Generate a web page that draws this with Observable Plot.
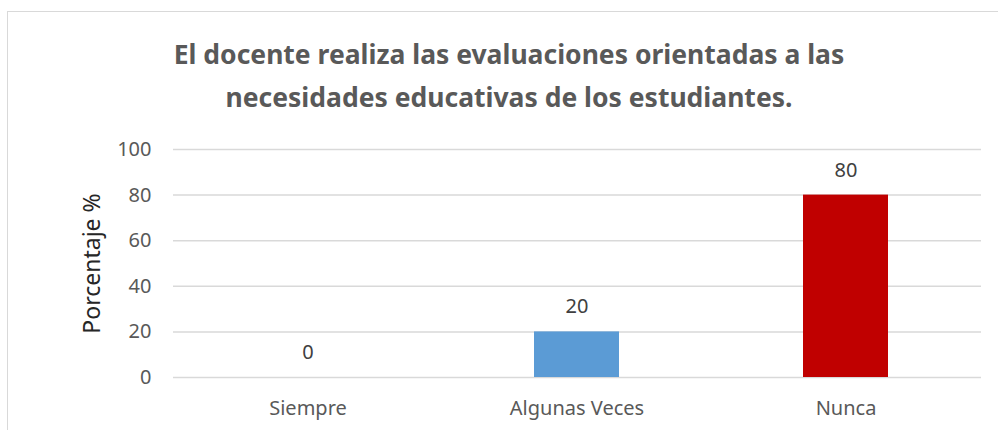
<!DOCTYPE html>
<html>
<head>
<meta charset="utf-8">
<script src="https://cdn.jsdelivr.net/npm/d3@7"></script>
<script src="https://cdn.jsdelivr.net/npm/@observablehq/plot@0.6"></script>
<style>
  html, body { margin: 0; padding: 0; background: #fff; }
  #wrap { position: relative; width: 998px; height: 430px; overflow: hidden; font-family: "Noto Sans", sans-serif; }
  #frame { position: absolute; left: 7px; top: 11px; width: 1200px; height: 600px; border-left: 1.5px solid #d9d9d9; border-top: 1.5px solid #d9d9d9; }
  #title { position: absolute; left: 0; top: 33px; width: 1018px; text-align: center; font-weight: bold; font-size: 26.5px; line-height: 43px; color: #595959; }
  #chart { position: absolute; left: 0; top: 0; }
</style>
</head>
<body>
<div id="wrap">
  <div id="frame"></div>
  <div id="title">El docente realiza las evaluaciones orientadas a las<br>necesidades educativas de los estudiantes.</div>
  <div id="chart"></div>
</div>
<script>
const categories = ["Siempre", "Algunas Veces", "Nunca"];
const values = [0, 20, 80];
const colors = ["#5B9BD5", "#5B9BD5", "#C00000"];
const yTicks = [0, 20, 40, 60, 80, 100];
const yLabel = "Porcentaje %";

const data = categories.map((c, i) => ({cat: c, val: values[i], color: colors[i]}));

const plot = Plot.plot({
  width: 998,
  height: 430,
  marginLeft: 173,
  marginRight: 17,
  marginTop: 149,
  marginBottom: 53,
  style: {fontFamily: "Noto Sans, sans-serif", fontSize: "20px", background: "transparent", overflow: "visible"},
  x: {domain: categories, paddingInner: 0.684, paddingOuter: 0.342, label: null},
  y: {domain: [0, 100], ticks: yTicks, label: null},
  marks: [
    Plot.ruleY(yTicks, {stroke: "#d9d9d9", strokeWidth: 1.5}),
    Plot.barY(data, {x: "cat", y: "val", fill: "color"}),
    Plot.text(data, {x: "cat", y: "val", text: d => String(d.val), dy: -25, fill: "#404040", fontSize: 20}),
    Plot.axisY({ticks: yTicks, tickSize: 0, tickPadding: 22, fill: "#595959", fontSize: 20, label: null}),
    Plot.axisX({tickSize: 0, tickPadding: 23, fill: "#595959", fontSize: 20, label: null}),
    Plot.text([yLabel], {frameAnchor: "left", textAnchor: "middle", dx: -81, rotate: -90, fill: "#262626", fontSize: 23, text: d => d})
  ]
});
document.getElementById("chart").appendChild(plot);
</script>
</body>
</html>
